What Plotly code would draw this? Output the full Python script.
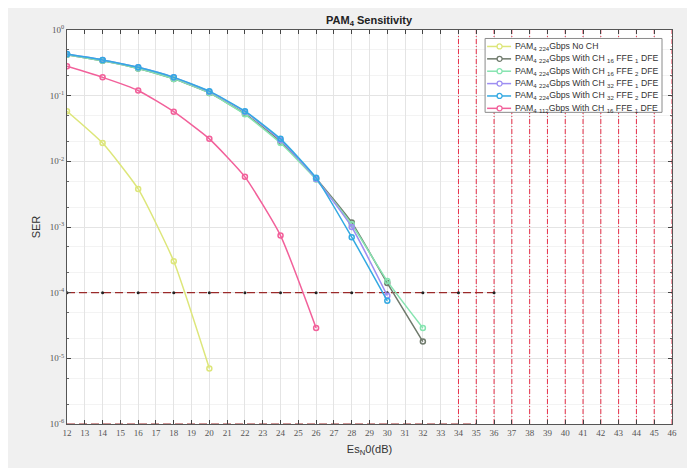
import plotly.graph_objects as go

# ---- data ----
x_nch = [12, 14, 16, 18, 20]
y_nch = [0.058, 0.019, 0.0038, 3.0e-4, 7.0e-6]

x_16_1 = [12, 14, 16, 18, 20, 22, 24, 26, 28, 30, 32]
y_16_1 = [0.42, 0.34, 0.26, 0.18, 0.11, 0.053, 0.020, 0.0055, 1.17e-3, 1.4e-4, 1.8e-5]

x_16_2 = [12, 14, 16, 18, 20, 22, 24, 26, 28, 30, 32]
y_16_2 = [0.42, 0.34, 0.26, 0.18, 0.11, 0.052, 0.019, 0.0053, 1.1e-3, 1.5e-4, 2.9e-5]

x_32_1 = [12, 14, 16, 18, 20, 22, 24, 26, 28, 30]
y_32_1 = [0.43, 0.35, 0.27, 0.19, 0.115, 0.057, 0.021, 0.0054, 1.0e-3, 9.0e-5]

x_32_2 = [12, 14, 16, 18, 20, 22, 24, 26, 28, 30]
y_32_2 = [0.43, 0.35, 0.27, 0.19, 0.117, 0.058, 0.022, 0.0056, 7.0e-4, 7.5e-5]

x_112 = [12, 14, 16, 18, 20, 22, 24, 26]
y_112 = [0.28, 0.19, 0.12, 0.057, 0.022, 0.0058, 7.4e-4, 2.9e-5]

names = [
    "PAM<sub>4</sub> <sub>224</sub>Gbps No CH",
    "PAM<sub>4</sub> <sub>224</sub>Gbps With CH <sub>16</sub> FFE <sub>1</sub> DFE",
    "PAM<sub>4</sub> <sub>224</sub>Gbps With CH <sub>16</sub> FFE <sub>2</sub> DFE",
    "PAM<sub>4</sub> <sub>224</sub>Gbps With CH <sub>32</sub> FFE <sub>1</sub> DFE",
    "PAM<sub>4</sub> <sub>224</sub>Gbps With CH <sub>32</sub> FFE <sub>2</sub> DFE",
    "PAM<sub>4</sub> <sub>112</sub>Gbps With CH <sub>16</sub> FFE <sub>1</sub> DFE",
]
colors = ["#dde67a", "#6f7a6c", "#86e4b0", "#9d8ef2", "#33a9e2", "#f2609a"]

# reference lines
thr_x = [12, 14, 16, 18, 20, 22, 24, 26, 28, 30, 32, 34, 36]
thr_y = 1e-4
vline_x = list(range(34, 47))
y_min, y_max = 1e-6, 1.0

xticks = list(range(12, 47))
ytick_vals = [1, 1e-1, 1e-2, 1e-3, 1e-4, 1e-5, 1e-6]
ytick_text = ["10<sup>0</sup>", "10<sup>-1</sup>", "10<sup>-2</sup>", "10<sup>-3</sup>",
              "10<sup>-4</sup>", "10<sup>-5</sup>", "10<sup>-6</sup>"]

# ---- geometry (page body has an 8px margin) ----
OFF = 8
W, H = 695 - OFF, 468 - OFF
PX0, PX1, PY0, PY1 = 66.7, 672.0, 29.5, 424.3  # plot box in screen pixels


def fx(px):
    return (px - PX0) / (PX1 - PX0)


def fy(py):
    return (PY1 - py) / (PY1 - PY0)


fig = go.Figure()

# vertical red dash-dot lines
for vx in vline_x:
    fig.add_trace(go.Scatter(x=[vx, vx], y=[y_min, y_max], mode="lines",
                             line=dict(color="#e8304a", width=1, dash="5px,2px,1px,2px"),
                             showlegend=False, hoverinfo="skip"))

# bottom dashed line
fig.add_trace(go.Scatter(x=[12, 35], y=[y_min, y_min], mode="lines",
                         line=dict(color="#9a2a2a", width=1.2, dash="8px,4px"),
                         showlegend=False, hoverinfo="skip"))

# threshold line
fig.add_trace(go.Scatter(x=thr_x, y=[thr_y] * len(thr_x), mode="lines+markers",
                         line=dict(color="#9a2a2a", width=1.2, dash="8px,4px"),
                         marker=dict(color="#222222", size=3),
                         showlegend=False, hoverinfo="skip"))

series = [(x_nch, y_nch), (x_16_1, y_16_1), (x_16_2, y_16_2),
          (x_32_1, y_32_1), (x_32_2, y_32_2), (x_112, y_112)]
for (xs, ys), nm, c in zip(series, names, colors):
    fig.add_trace(go.Scatter(x=xs, y=ys, name=nm, mode="lines+markers",
                             line=dict(color=c, width=1.5, shape="spline", smoothing=0.5),
                             marker=dict(symbol="circle-open", size=5, color=c, line=dict(width=1.5)),
                             showlegend=False))

# ---- custom compact legend ----
shapes = []
annotations = []
box_l, box_r, box_t, box_b = 485, 662, 38, 112
shapes.append(dict(type="rect", xref="x domain", yref="y domain", layer="above",
                   x0=fx(box_l), x1=fx(box_r), y0=fy(box_b), y1=fy(box_t),
                   fillcolor="#ffffff", line=dict(color="#8a8a8a", width=1)))
row0, step = 46.0, 12.4
for i, (nm, c) in enumerate(zip(names, colors)):
    cy = row0 + i * step
    shapes.append(dict(type="line", xref="x domain", yref="y domain", layer="above",
                       x0=fx(487), x1=fx(511), y0=fy(cy), y1=fy(cy),
                       line=dict(color=c, width=1.5)))
    shapes.append(dict(type="circle", xref="x domain", yref="y domain", layer="above",
                       xsizemode="pixel", ysizemode="pixel",
                       xanchor=fx(499.5), yanchor=fy(cy),
                       x0=-2.5, x1=2.5, y0=-2.5, y1=2.5,
                       fillcolor="#ffffff", line=dict(color=c, width=1.3)))
    annotations.append(dict(text=nm, xref="x domain", yref="y domain",
                            x=fx(513), y=fy(cy), xanchor="left", yanchor="middle",
                            showarrow=False, font=dict(size=8.7, color="#333333")))

fig.update_layout(
    width=W, height=H,
    paper_bgcolor="#f0f0f0", plot_bgcolor="#ffffff",
    margin=dict(l=PX0 - OFF, r=695 - PX1, t=PY0 - OFF, b=468 - PY1, autoexpand=False),
    font=dict(family="Liberation Sans, Arial, sans-serif", color="#333333"),
    title=dict(text="<b>PAM<sub>4</sub> Sensitivity</b>", x=(369 - OFF) / W, xanchor="center",
               y=1 - (20 - OFF) / H, yanchor="middle", font=dict(size=11, color="#222222")),
    showlegend=False,
    shapes=shapes,
    annotations=annotations,
)

fig.update_xaxes(range=[12, 46], tickvals=xticks, ticktext=[str(v) for v in xticks],
                 ticks="inside", ticklen=4, tickcolor="#444444", automargin=False,
                 showline=True, linecolor="#555555", linewidth=1.2, mirror="ticks",
                 showgrid=True, gridcolor="#e4e4e4", gridwidth=1, zeroline=False,
                 tickfont=dict(family="Liberation Serif, serif", size=9, color="#555555"),
                 title=dict(text="Es<sub>N</sub>0(dB)", font=dict(size=11, color="#333333"), standoff=8))

fig.update_yaxes(type="log", range=[-6, 0], tickvals=ytick_vals, ticktext=ytick_text,
                 ticks="inside", ticklen=4, tickcolor="#444444", automargin=False,
                 minor=dict(ticks="inside", ticklen=2, tickcolor="#666666",
                            showgrid=True, gridcolor="#f3f3f3"),
                 showline=True, linecolor="#555555", linewidth=1.2, mirror="ticks",
                 showgrid=True, gridcolor="#e4e4e4", zeroline=False,
                 tickfont=dict(family="Liberation Serif, serif", size=9, color="#555555"),
                 title=dict(text="SER", font=dict(size=11, color="#333333"), standoff=6))

fig.write_html("out.html")
